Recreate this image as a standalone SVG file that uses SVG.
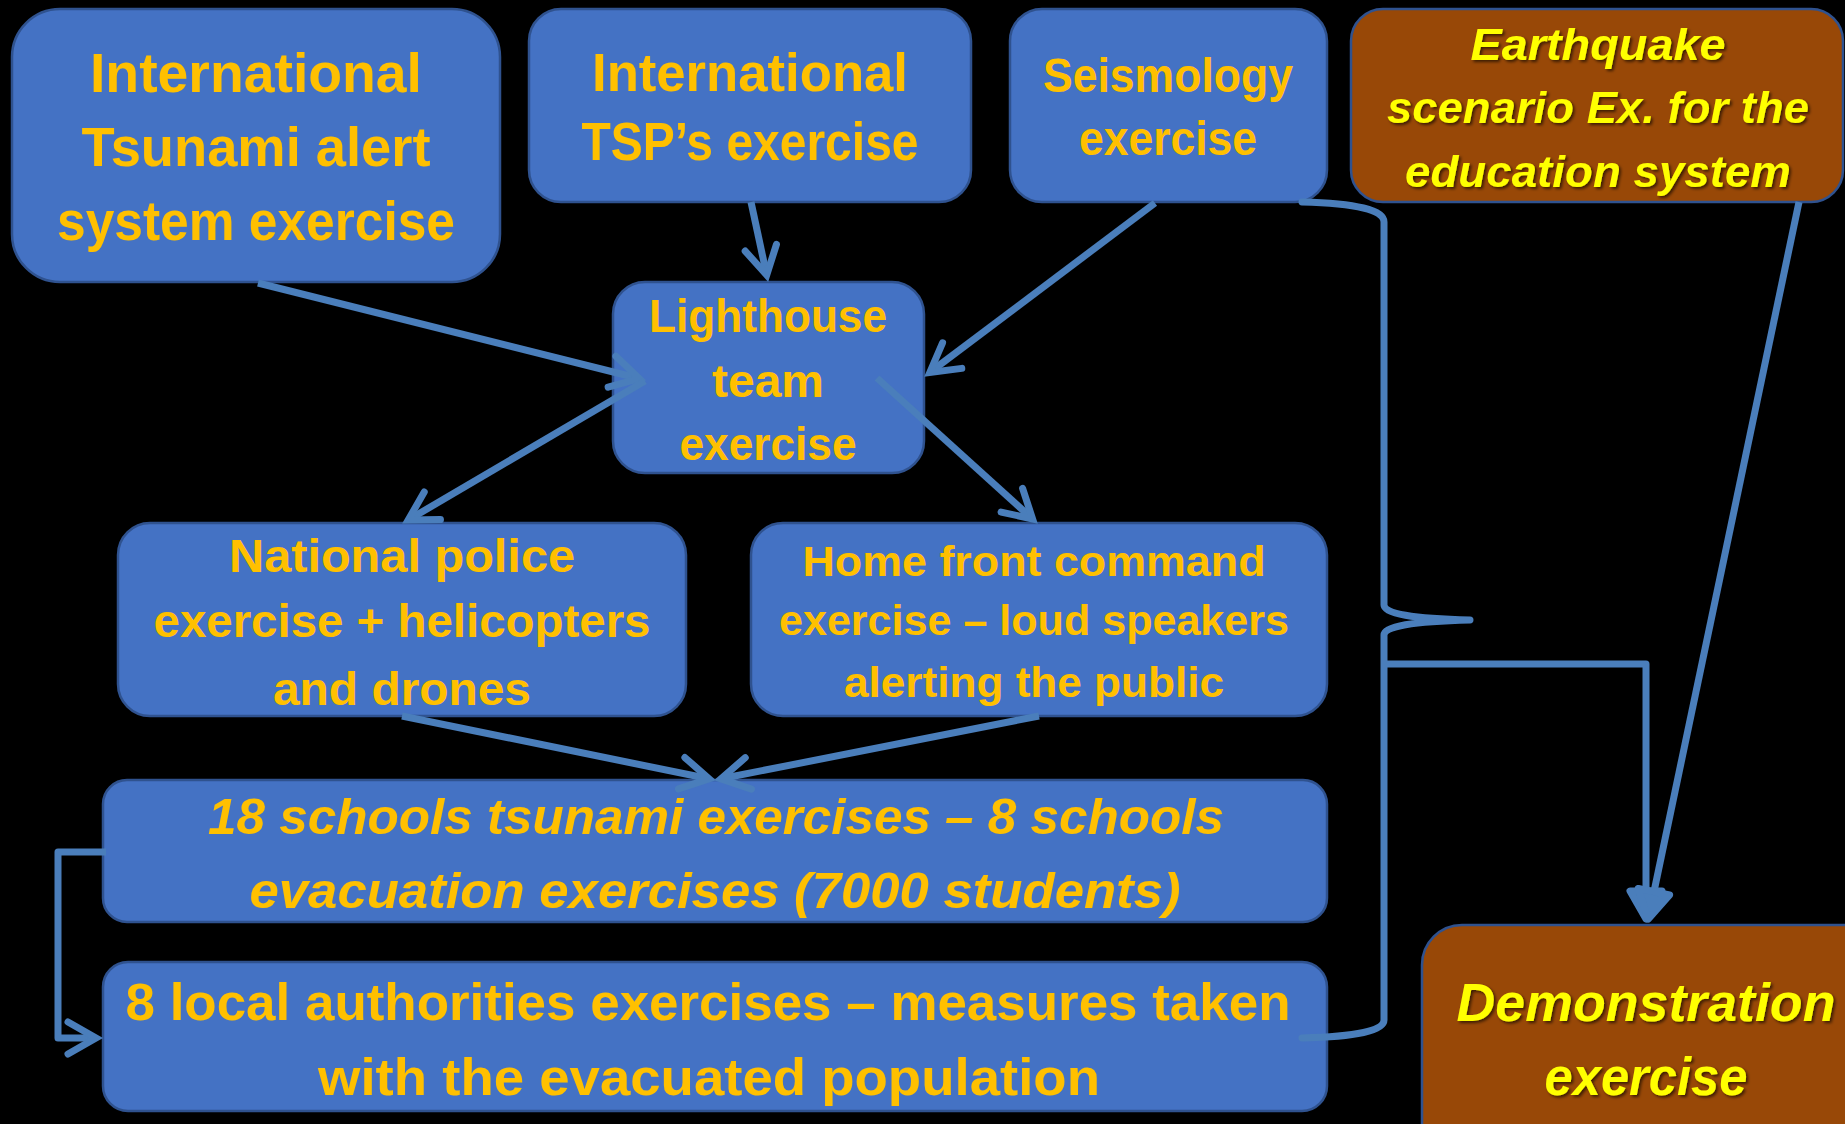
<svg xmlns="http://www.w3.org/2000/svg" width="1845" height="1124" viewBox="0 0 1845 1124">
<style>
.box{fill:#4472C4;stroke:#2F528F;stroke-width:2.5}
.brown{fill:#984807;stroke:#2F528F;stroke-width:2.5}
.t{font-family:"Liberation Sans",Arial,sans-serif;font-weight:bold;fill:#FFC000;text-anchor:middle}
.ti{font-family:"Liberation Sans",Arial,sans-serif;font-weight:bold;font-style:italic;fill:#FFC000;text-anchor:middle}
.ty{font-family:"Liberation Sans",Arial,sans-serif;font-weight:bold;font-style:italic;fill:#FFFF00;text-anchor:middle;filter:url(#sh)}
.c{fill:none;stroke:#4A7EBB;stroke-width:7;stroke-linecap:butt;stroke-linejoin:round}
.ca{marker-end:url(#arr)}
.cf{marker-end:url(#arrf)}
</style>
<defs>
<marker id="arr" viewBox="-40 -25 50 50" refX="0" refY="0" markerWidth="50" markerHeight="50" markerUnits="userSpaceOnUse" orient="auto" overflow="visible">
<path d="M-28,-16 L0,0 L-28,16" fill="none" stroke="#4A7EBB" stroke-width="7" stroke-linecap="round" stroke-linejoin="miter"/>
</marker>
<marker id="arrf" viewBox="-40 -25 50 50" refX="0" refY="0" markerWidth="50" markerHeight="50" markerUnits="userSpaceOnUse" orient="auto" overflow="visible">
<path d="M-28,-16 L0,0 L-28,16 Z" fill="#4A7EBB" stroke="#4A7EBB" stroke-width="7" stroke-linecap="round" stroke-linejoin="round"/>
</marker>
<filter id="sh" x="-10%" y="-30%" width="120%" height="160%">
<feDropShadow dx="2" dy="2" stdDeviation="1.5" flood-color="#000" flood-opacity="0.6"/>
</filter>
</defs>
<rect width="1845" height="1124" fill="#000"/>

<g id="n-tsunami-alert">
<rect class="box" x="12" y="9" width="488" height="273" rx="48"/>
<text class="t" font-size="55"><tspan x="256" y="92" textLength="332" lengthAdjust="spacingAndGlyphs">International</tspan><tspan x="256" y="166" textLength="349" lengthAdjust="spacingAndGlyphs">Tsunami alert</tspan><tspan x="256" y="240" textLength="398" lengthAdjust="spacingAndGlyphs">system exercise</tspan></text>
</g>
<g id="n-tsp">
<rect class="box" x="529" y="9" width="442" height="193" rx="32"/>
<text class="t" font-size="54"><tspan x="750" y="91" textLength="316" lengthAdjust="spacingAndGlyphs">International</tspan><tspan x="750" y="160" textLength="337" lengthAdjust="spacingAndGlyphs">TSP’s exercise</tspan></text>
</g>
<g id="n-seismology">
<rect class="box" x="1010" y="9" width="317" height="193" rx="32"/>
<text class="t" font-size="48"><tspan x="1168" y="92" textLength="250" lengthAdjust="spacingAndGlyphs">Seismology</tspan><tspan x="1168" y="155" textLength="178" lengthAdjust="spacingAndGlyphs">exercise</tspan></text>
</g>
<g id="n-earthquake">
<rect class="brown" x="1351" y="9" width="492" height="193" rx="32"/>
<text class="ty" font-size="44"><tspan x="1598" y="60" textLength="255" lengthAdjust="spacingAndGlyphs">Earthquake</tspan><tspan x="1598" y="123" textLength="422" lengthAdjust="spacingAndGlyphs">scenario Ex. for the</tspan><tspan x="1598" y="187" textLength="386" lengthAdjust="spacingAndGlyphs">education system</tspan></text>
</g>
<g id="n-lighthouse">
<rect class="box" x="613" y="282" width="311" height="191" rx="32"/>
<text class="t" font-size="47"><tspan x="768" y="332" textLength="238" lengthAdjust="spacingAndGlyphs">Lighthouse</tspan><tspan x="768" y="397" textLength="112" lengthAdjust="spacingAndGlyphs">team</tspan><tspan x="768" y="460" textLength="177" lengthAdjust="spacingAndGlyphs">exercise</tspan></text>
</g>
<g id="n-police">
<rect class="box" x="118" y="523" width="568" height="193" rx="32"/>
<text class="t" font-size="47"><tspan x="402" y="572" textLength="346" lengthAdjust="spacingAndGlyphs">National police</tspan><tspan x="402" y="637" textLength="497" lengthAdjust="spacingAndGlyphs">exercise + helicopters</tspan><tspan x="402" y="705" textLength="258" lengthAdjust="spacingAndGlyphs">and drones</tspan></text>
</g>
<g id="n-homefront">
<rect class="box" x="751" y="523" width="576" height="193" rx="32"/>
<text class="t" font-size="42"><tspan x="1034" y="576" textLength="463" lengthAdjust="spacingAndGlyphs">Home front command</tspan><tspan x="1034" y="635" textLength="510" lengthAdjust="spacingAndGlyphs">exercise – loud speakers</tspan><tspan x="1034" y="697" textLength="380" lengthAdjust="spacingAndGlyphs">alerting the public</tspan></text>
</g>
<g id="n-schools">
<rect class="box" x="103" y="780" width="1224" height="142" rx="24"/>
<text class="ti" font-size="50"><tspan x="716" y="834" textLength="1016" lengthAdjust="spacingAndGlyphs">18 schools tsunami exercises – 8 schools</tspan><tspan x="715" y="908" textLength="931" lengthAdjust="spacingAndGlyphs">evacuation exercises (7000 students)</tspan></text>
</g>
<g id="n-local">
<rect class="box" x="103" y="962" width="1224" height="149" rx="25"/>
<text class="t" font-size="52"><tspan x="708" y="1020" textLength="1165" lengthAdjust="spacingAndGlyphs">8 local authorities exercises – measures taken</tspan><tspan x="709" y="1095" textLength="782" lengthAdjust="spacingAndGlyphs">with the evacuated population</tspan></text>
</g>
<g id="n-demo">
<rect class="brown" x="1422" y="925" width="460" height="260" rx="40"/>
<text class="ty" font-size="53"><tspan x="1646" y="1021" textLength="379" lengthAdjust="spacingAndGlyphs">Demonstration</tspan><tspan x="1646" y="1095" textLength="203" lengthAdjust="spacingAndGlyphs">exercise</tspan></text>
</g>

<g id="connectors">
<path class="c ca" d="M258,283 L639.2,378.5"/>
<path class="c ca" d="M751,202 L766.7,275.1"/>
<path class="c ca" d="M1155,203 L929.8,372.4"/>
<path class="c ca" d="M877,378 L1032.6,519"/>
<path class="c ca" d="M645,381 L408.2,520"/>
<path class="c ca" d="M402,716 L709.1,778.8"/>
<path class="c ca" d="M1039,716 L720.9,778.8"/>
<path class="c ca" d="M106,852 L58,852 L58,1038 L96,1038"/>
<path class="c" style="stroke-linecap:round" d="M1302,202 Q1384,204 1384,222 L1384,605 Q1384,618 1470,620 Q1384,622 1384,635 L1384,1020 Q1384,1036 1302,1038"/>
<path class="c cf" d="M1384,664 L1646,664 L1646,919"/>
<path class="c cf" d="M1799,202 L1648.2,919.1"/>
</g>
</svg>
